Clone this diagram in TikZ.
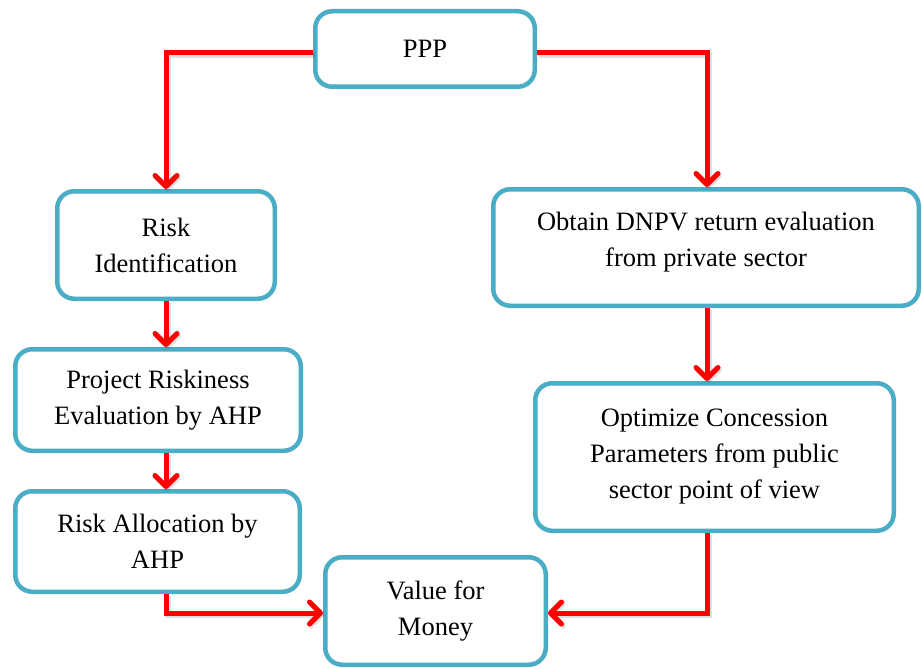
\documentclass[tikz,border=0pt]{standalone}
\usepackage{fontspec}
\setmainfont{Liberation Serif}
\newfontfamily\boxfont{Liberation Serif}
\usetikzlibrary{arrows.meta}
\definecolor{boxblue}{HTML}{4BACC6}
\definecolor{flowred}{HTML}{FF0000}
\begin{document}
\begin{tikzpicture}[x=1pt,y=-1pt,
  boxtext/.style={align=center, font=\boxfont\fontsize{26.5pt}{36pt}\selectfont},
  stepbox/.style={draw=boxblue, line width=4.5pt, rounded corners=17pt,
    fill=white, inner sep=0pt, boxtext},
  flow/.style={draw=flowred, line width=5pt,
    -{Straight Barb[length=11pt,width=22pt,line cap=round,line join=round,line width=5pt]},
    preaction={draw=black, draw opacity=0.12, line width=6pt,
      transform canvas={shift={(1.5pt,-2pt)}}}}]
  \fill[white] (0,0) rectangle (922,669);
  \useasboundingbox (0,0) rectangle (922,669);

  % process boxes
  \node[stepbox, minimum width=219.5pt, minimum height=75.5pt] (ppp) at (425,49) {PPP};
  \node[stepbox, minimum width=217.5pt, minimum height=107.5pt] (rid) at (166,245) {Risk\\Identification};
  \node[stepbox, minimum width=285.5pt, minimum height=101.5pt] (prj) at (158,400) {Project Riskiness\\Evaluation by AHP};
  \node[stepbox, minimum width=284.5pt, minimum height=100.5pt] (ral) at (157.5,541.5) {Risk Allocation by\\AHP};
  \node[stepbox, minimum width=220.5pt, minimum height=107.5pt] (val) at (435.5,611) {Value for\\Money};
  \node[stepbox, minimum width=425.5pt, minimum height=116.5pt,
    label={[boxtext, yshift=5pt]center:Obtain DNPV return evaluation\\from private sector}]
    (dnpv) at (706,247.5) {};
  \node[stepbox, minimum width=358.5pt, minimum height=147.5pt] (opt) at (714.5,457) {Optimize Concession\\Parameters from public\\sector point of view};

  % left branch
  \coordinate (lx) at (rid.south);
  \draw[flow] ([yshift=-4pt]ppp.west) -| (rid.north);
  \draw[flow] (rid.south) -- (lx |- prj.north);
  \draw[flow] (lx |- prj.south) -- (lx |- ral.north);
  \draw[flow] (lx |- ral.south) |- ([yshift=-2pt]val.west);

  % right branch
  \coordinate (rx) at ([xshift=1pt]dnpv.south);
  \draw[flow] ([yshift=-4pt]ppp.east) -| (rx |- dnpv.north);
  \draw[flow] (rx) -- (rx |- opt.north);
  \draw[flow] (rx |- opt.south) |- ([yshift=-2pt]val.east);
\end{tikzpicture}
\end{document}
